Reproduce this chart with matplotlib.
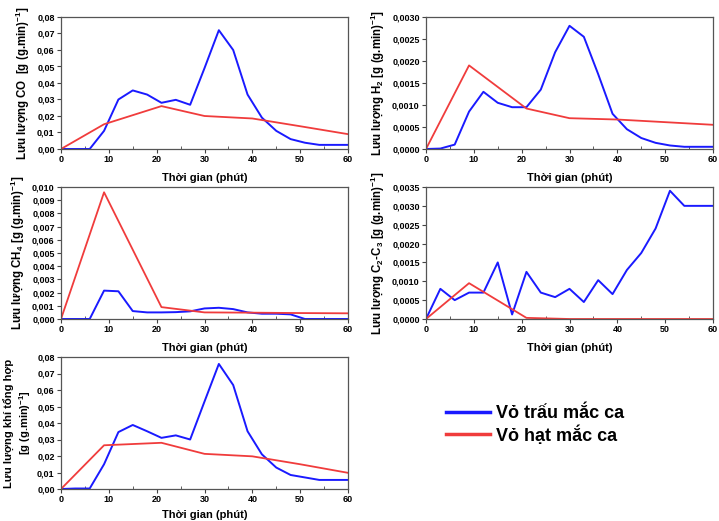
#!/usr/bin/env python3

import numpy as np
import matplotlib
matplotlib.use('Agg')
import matplotlib.pyplot as plt
from matplotlib.ticker import FuncFormatter, MultipleLocator


plt.rcParams['font.family'] = ['Liberation Sans', 'DejaVu Sans']
plt.rcParams['font.weight'] = 'bold'
plt.rcParams['mathtext.fontset'] = 'custom'
plt.rcParams['mathtext.rm'] = 'Liberation Sans:bold'
plt.rcParams['mathtext.default'] = 'rm'

# time axis (minutes)
t_blue = [0, 3, 6, 9, 12, 15, 18, 21, 24, 27, 30, 33, 36, 39, 42, 45, 48, 51, 54, 57, 60]
t_red = [0, 9, 21, 30, 40, 50, 60]

# CO
co_vo_trau = [0, 0, 0, 0.011, 0.030, 0.0355, 0.033, 0.028, 0.0298, 0.0268, 0.049,
              0.072, 0.060, 0.033, 0.019, 0.011, 0.006, 0.0038, 0.0025, 0.0025, 0.0025]
co_vo_hat = [0, 0.015, 0.026, 0.020, 0.0185, 0.0138, 0.009]

# H2
h2_vo_trau = [0, 0.00001, 0.0001, 0.00085, 0.0013, 0.00105, 0.00095, 0.00095, 0.00135,
              0.0022, 0.0028, 0.00255, 0.0017, 0.0008, 0.00045, 0.00025, 0.00014,
              0.00008, 0.00005, 0.00005, 0.00005]
h2_vo_hat = [0, 0.0019, 0.00092, 0.0007, 0.00067, 0.00061, 0.00055]

# CH4
ch4_vo_trau = [0, 0, 0, 0.00215, 0.0021, 0.0006, 0.0005, 0.0005, 0.00052, 0.00058,
               0.0008, 0.00085, 0.00075, 0.0005, 0.0004, 0.0004, 0.00035, 0, 0, 0, 0]
ch4_vo_hat = [0, 0.0096, 0.0009, 0.0005, 0.00048, 0.00045, 0.00043]

# C2-C3
c23_vo_trau = [0, 0.0008, 0.0005, 0.0007, 0.0007, 0.0015, 0.00012, 0.00125, 0.0007,
               0.00058, 0.0008, 0.00045, 0.00103, 0.00066, 0.0013, 0.00175, 0.0024,
               0.0034, 0.0030, 0.0030, 0.0030]
c23_vo_hat = [0, 0.00095, 0.00003, 0, 0, 0, 0]

# total syngas
tong_vo_trau = [0, 0.0003, 0.0003, 0.015, 0.0345, 0.0388, 0.035, 0.031, 0.0325, 0.030,
                0.053, 0.0758, 0.063, 0.035, 0.021, 0.013, 0.0085, 0.007, 0.0055,
                0.0055, 0.0055]
tong_vo_hat = [0, 0.0265, 0.028, 0.0213, 0.0198, 0.015, 0.0098]

BLUE = '#1a1aff'
RED = '#f03c3c'
XLABEL = 'Thời gian (phút)'
UNIT = r'[g (g.min)$^{-1}$]'


def comma_fmt(decimals):
    return FuncFormatter(lambda v, p: f'{v:.{decimals}f}'.replace('.', ','))


def draw_panel(ax, y_blue, y_red, ymax, ystep, decimals, ylabel, xpad=6, ypad=4, ysize=8.3):
    ax.plot(t_blue, y_blue, color=BLUE, lw=1.4)
    ax.plot(t_red, y_red, color=RED, lw=1.3)
    ax.set_xlim(0, 60)
    ax.set_ylim(0, ymax)
    ax.xaxis.set_major_locator(MultipleLocator(10))
    ax.xaxis.set_minor_locator(MultipleLocator(5))
    ax.yaxis.set_major_locator(MultipleLocator(ystep))
    ax.yaxis.set_major_formatter(comma_fmt(decimals))
    ax.tick_params(axis='both', which='major', direction='out', length=3,
                   width=0.8, labelsize=6.5, pad=1.5, color='#444444')
    ax.tick_params(axis='x', which='minor', direction='in', length=2, width=0.6,
                   color='#444444')
    ax.tick_params(axis='y', which='minor', left=False)
    for s in ax.spines.values():
        s.set_color('#555555')
        s.set_linewidth(0.9)
    ax.set_xlabel(XLABEL, fontsize=8, fontweight='bold', labelpad=xpad)
    ax.set_ylabel(ylabel, fontsize=ysize, fontweight='bold', labelpad=ypad,
                  linespacing=1.15)


W, H = 719, 521
fig = plt.figure(figsize=(W / 100, H / 100), dpi=100)


def add_axes(x0, x1, y0, y1):
    return fig.add_axes([x0 / W, 1 - y1 / H, (x1 - x0) / W, (y1 - y0) / H])


ax1 = add_axes(61, 348, 17, 149)
ax2 = add_axes(426, 713, 17, 149)
ax3 = add_axes(61, 348, 187, 319)
ax4 = add_axes(426, 713, 187, 319)
ax5 = add_axes(61, 348, 357, 489)

draw_panel(ax1, co_vo_trau, co_vo_hat, 0.08, 0.01, 2, 'Lưu lượng CO  ' + UNIT)
draw_panel(ax2, h2_vo_trau, h2_vo_hat, 0.0030, 0.0005, 4, r'Lưu lượng H$_2$ ' + UNIT)
draw_panel(ax3, ch4_vo_trau, ch4_vo_hat, 0.010, 0.001, 3, r'Lưu lượng CH$_4$ ' + UNIT)
draw_panel(ax4, c23_vo_trau, c23_vo_hat, 0.0035, 0.0005, 4,
           r'Lưu lượng C$_2$-C$_3$ ' + UNIT)
draw_panel(ax5, tong_vo_trau, tong_vo_hat, 0.08, 0.01, 2,
           'Lưu lượng khí tổng hợp\n' + UNIT, xpad=4, ypad=3, ysize=8)

# legend in the empty bottom-right spot
h_blue, = ax5.plot([], [], color=BLUE, lw=2.5)
h_red, = ax5.plot([], [], color=RED, lw=2.5)
fig.legend([h_blue, h_red], ['Vỏ trấu mắc ca', 'Vỏ hạt mắc ca'],
           loc='center left', bbox_to_anchor=(430 / W, 1 - 425 / H),
           frameon=False, handlelength=2.4, handletextpad=0.35,
           labelspacing=0.15, prop={'weight': 'bold', 'size': 13})

fig.savefig('out.png', dpi=100)
